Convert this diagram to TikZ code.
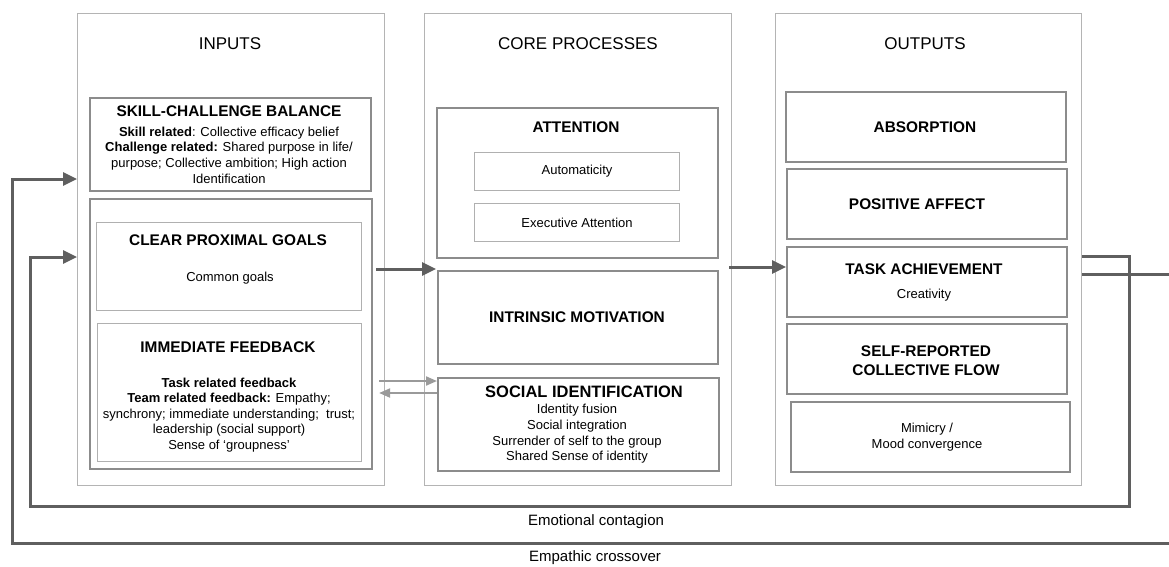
\documentclass[tikz,border=0pt]{standalone}
\usepackage{fontspec}
\setmainfont{Liberation Sans}
\usetikzlibrary{arrows.meta}
\definecolor{colgray}{HTML}{B4B4B4}
\definecolor{boxgray}{HTML}{8C8C8C}
\definecolor{lightbox}{HTML}{B0B0B0}
\definecolor{arrgray}{HTML}{5F5F5F}
\definecolor{thinarr}{HTML}{9A9A9A}
\begin{document}
\begin{tikzpicture}[x=1pt,y=-1pt,
  colbox/.style={draw=colgray,line width=1.1pt,anchor=north west,inner sep=0pt},
  darkbox/.style={draw=boxgray,line width=2pt,anchor=north west,inner sep=0pt},
  lightbox/.style={draw=lightbox,line width=1.1pt,anchor=north west,inner sep=0pt},
  head/.style={font=\fontsize{17}{19}\selectfont,inner sep=0pt},
  title/.style={font=\fontsize{15.4}{18}\selectfont\bfseries,inner sep=0pt},
  body/.style={font=\fontsize{13}{15.6}\selectfont,align=center,inner sep=0pt},
  label/.style={font=\fontsize{15}{18}\selectfont,inner sep=0pt},
  bigarrow/.style={draw=arrgray,line width=3pt,-{Triangle[length=14pt,width=13pt]}},
  thinarrow/.style={draw=thinarr,line width=2pt,-{Triangle[length=11pt,width=9pt]}},
  loopline/.style={draw=arrgray,line width=3pt},
]
\useasboundingbox (0,0) rectangle (1169,566);
% columns
\node[colbox,minimum width=307pt,minimum height=472pt] (colIn) at (77,13) {};
\node[colbox,minimum width=307pt,minimum height=472pt] (colCore) at (424,13) {};
\node[colbox,minimum width=306pt,minimum height=472pt] (colOut) at (775,13) {};
\node[head] (hIn) at (230,44) {INPUTS};
\node[head] (hCore) at (578,44) {CORE PROCESSES};
\node[head] (hOut) at (925,44) {OUTPUTS};
% inputs
\node[darkbox,minimum width=281pt,minimum height=93pt] (skill) at (89,97) {};
\node[title] (tSkill) at (229,111) {SKILL-CHALLENGE BALANCE};
\node[body] (bSkill) at (229,155) {\textbf{Skill related}: Collective efficacy belief\\\textbf{Challenge related:} Shared purpose in life/\\purpose; Collective ambition; High action\\Identification};
\node[darkbox,minimum width=282pt,minimum height=270pt] (goalsOuter) at (89,198) {};
\node[lightbox,minimum width=265pt,minimum height=88pt] (goals) at (96,222) {};
\node[title] (tGoals) at (228,240) {CLEAR PROXIMAL GOALS};
\node[body] (bGoals) at (230,278) {Common goals};
\node[lightbox,minimum width=264pt,minimum height=138pt] (feedback) at (97,323) {};
\node[title] (tFeed) at (228,347) {IMMEDIATE FEEDBACK};
\node[body] (bFeed) at (229,415) {\textbf{Task related feedback}\\\textbf{Team related feedback:} Empathy;\\synchrony; immediate understanding;\ \ trust;\\leadership (social support)\\Sense of ‘groupness’};
% core
\node[darkbox,minimum width=281pt,minimum height=150pt] (attention) at (436,107) {};
\node[title] (tAtt) at (576,127) {ATTENTION};
\node[lightbox,minimum width=205pt,minimum height=38pt] (autom) at (474,152) {};
\node[body] (tAutom) at (autom.center) {Automaticity};
\node[lightbox,minimum width=205pt,minimum height=38pt] (exec) at (474,203) {};
\node[body] (tExec) at (exec.center) {Executive Attention};
\node[darkbox,minimum width=280pt,minimum height=93pt] (intr) at (437,270) {};
\node[title] (tIntr) at (577,317) {INTRINSIC MOTIVATION};
\node[darkbox,minimum width=281pt,minimum height=93pt] (social) at (437,377) {};
\node[title,font=\fontsize{16.5}{19}\selectfont\bfseries] (tSocial) at (584,392) {SOCIAL IDENTIFICATION};
\node[body] (bSocial) at (577,434) {Identity fusion\\Social integration\\Surrender of self to the group\\Shared Sense of identity};
% outputs
\node[darkbox,minimum width=280pt,minimum height=70pt] (absorp) at (785,91) {};
\node[title] (tAbs) at (925,127) {ABSORPTION};
\node[darkbox,minimum width=280pt,minimum height=70pt] (posaff) at (786,168) {};
\node[title] (tPos) at (917,204) {POSITIVE AFFECT};
\node[darkbox,minimum width=280pt,minimum height=70pt] (task) at (786,246) {};
\node[title] (tTask) at (924,269) {TASK ACHIEVEMENT};
\node[body] (bTask) at (924,295) {Creativity};
\node[darkbox,minimum width=280pt,minimum height=70pt] (selfrep) at (786,323) {};
\node[title,align=center,font=\fontsize{15.4}{19}\selectfont\bfseries] (tSelf) at (926,361) {SELF-REPORTED\\COLLECTIVE FLOW};
\node[darkbox,line width=1.6pt,minimum width=279pt,minimum height=70pt] (mimic) at (790,401) {};
\node[body] (bMimic) at (927,437) {Mimicry /\\Mood convergence};
% main arrows
\draw[bigarrow] ([xshift=3pt]goalsOuter.east |- 0,269) -- (attention.west |- 0,269);
\draw[bigarrow] ([xshift=10pt]attention.east |- 0,267) -- (task.west |- 0,267);
\draw[thinarrow] ([xshift=17pt]feedback.east |- 0,381) -- (social.west |- 0,381);
\draw[thinarrow] (social.west |- 0,393) -- ([xshift=17pt]feedback.east |- 0,393);
% feedback loops
\coordinate (ecR) at (1129,506);
\coordinate (ecL) at (30,506);
\draw[loopline,-{Triangle[length=14pt,width=13pt]}] (colOut.east |- 0,256) -| (ecR) -- (ecL) |- (colIn.west |- 0,257);
\coordinate (epR) at (1185,543);
\coordinate (epL) at (12,543);
\draw[loopline,-{Triangle[length=14pt,width=13pt]}] (colOut.east |- 0,274) -| (epR) -- (epL) |- (colIn.west |- 0,179);
\node[label] (lEmo) at (596,522) {Emotional contagion};
\node[label] (lEmp) at (595,558) {Empathic crossover};
\end{tikzpicture}
\end{document}
